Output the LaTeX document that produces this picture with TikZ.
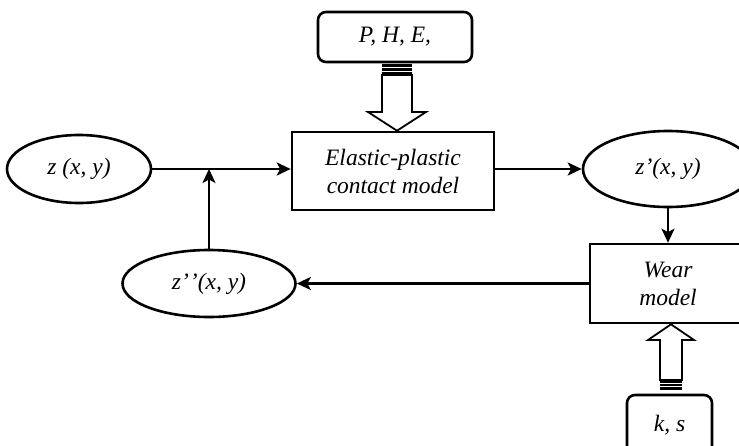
\documentclass[tikz,border=0pt]{standalone}
\usepackage{fontspec}
\setmainfont{Liberation Serif}
\usetikzlibrary{shapes.geometric,arrows.meta,calc}
\begin{document}
\begin{tikzpicture}[x=1pt,y=-1pt,
  every node/.style={font=\fontsize{23.5}{28}\selectfont\itshape},
  line/.style={line width=2.6pt},
  arr/.style={line, -{Stealth[length=14pt,width=13pt,inset=3.5pt]}},
  oval/.style={ellipse, draw, line width=2.6pt, inner sep=0pt},
  box/.style={rectangle, draw, line width=2.6pt, inner sep=0pt, align=center},
  rbox/.style={box, rounded corners=8pt},
  hollow/.style={draw, fill=white, line width=1.8pt, line join=miter},
  stripe/.style={fill=black},
  gap/.style={draw=white, line width=0.9pt},
]
\useasboundingbox (0,0) rectangle (739,445);
\clip (0,0) rectangle (739,445);

\node[rbox, minimum width=154pt, minimum height=50pt] (phe) at (395,37) {P, H, E,};
\node[box, minimum width=202pt, minimum height=78pt] (ep) at (393,171) {Elastic-plastic\\contact model};
\node[oval, minimum width=144pt, minimum height=68pt] (z) at (79,169) {z (x, y)};
\node[oval, minimum width=170pt, minimum height=76pt] (zp) at (668,169) {z’(x, y)};
\node[oval, minimum width=173pt, minimum height=67pt] (zpp) at (209,283.5) {z’\kern1pt’(x, y)};
\node[box, minimum width=156pt, minimum height=79pt] (wear) at (668,283.5) {Wear\\model};
\node[rbox, minimum width=85pt, minimum height=60pt] (ks) at (669.5,425) {k, s};

% connectors
\draw[arr] (z.east) -- (z.east -| ep.west);
\draw[arr] (zpp.north) -- (zpp.north |- z.east);
\draw[arr] (ep.east |- zp.west) -- (zp.west);
\draw[arr] (zp.south) -- (wear.north);
\draw[arr] (wear.west) -- (zpp.east);

% hollow arrow P,H,E -> contact model
\coordinate (t1) at ($(ep.north)+(4,0)$);
\fill[stripe] (382,64) rectangle (412,75);
\draw[gap] (382,67.6) -- (412,67.6);
\draw[gap] (382,71.2) -- (412,71.2);
\draw[hollow] (382,75) -- (382,112) -- (368,112) -- (t1) -- (426,112) -- (412,112) -- (412,75) -- cycle;

% hollow arrow k,s -> wear model
\coordinate (t2) at ($(wear.south)+(3,0)$);
\fill[stripe] (660,380) rectangle (682,389.5);
\draw[gap] (660,383.2) -- (682,383.2);
\draw[gap] (660,386.4) -- (682,386.4);
\draw[hollow] (660,380) -- (660,340) -- (648,340) -- (t2) -- (694,340) -- (682,340) -- (682,380) -- cycle;
\end{tikzpicture}
\end{document}
